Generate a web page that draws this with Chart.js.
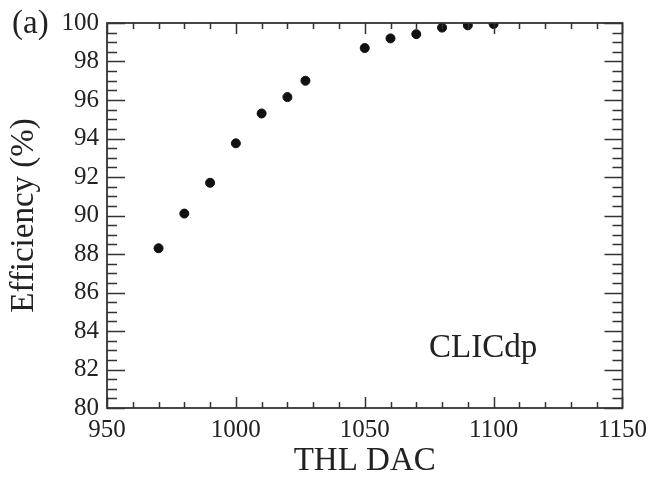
<!DOCTYPE html>
<html>
<head>
<meta charset="utf-8">
<script src="https://cdn.jsdelivr.net/npm/chart.js@4"></script>
<style>
  html, body { margin: 0; padding: 0; background: #fff; }
  #wrap { width: 654px; height: 478px; position: relative; }
</style>
</head>
<body>
<div id="wrap"><canvas id="effChart"></canvas></div>
<script>
// THL DAC threshold values and measured efficiency (%)
const thlDac = [970, 980, 990, 1000, 1010, 1020, 1027, 1050, 1060, 1070, 1080, 1090, 1100];
const efficiency = [88.3, 90.1, 91.7, 93.75, 95.3, 96.15, 97.0, 98.7, 99.2, 99.42, 99.76, 99.88, 99.95];

const xTicks = [950, 1000, 1050, 1100, 1150];
const yTicks = [80, 82, 84, 86, 88, 90, 92, 94, 96, 98, 100];

const SERIF = "'Liberation Serif', 'DejaVu Serif', serif";
const INK = "#222";

// inward ticks on all four sides + frame, placed through the scales
const frameTicks = {
  id: "frameTicks",
  afterDraw(chart) {
    const { ctx, chartArea: a, scales } = chart;
    const xs = scales.x, ys = scales.y;
    ctx.save();
    ctx.strokeStyle = "#333";
    ctx.lineWidth = 1.5;

    ctx.beginPath();
    for (let v = 950; v <= 1150; v += 10) {
      const px = Math.round(xs.getPixelForValue(v)) + 0.5;
      const len = v % 50 === 0 ? 11 : 6;
      ctx.moveTo(px, a.bottom); ctx.lineTo(px, a.bottom - len);
      ctx.moveTo(px, a.top); ctx.lineTo(px, a.top + len);
    }
    for (let i = 0; i <= 40; i++) {
      const v = 80 + i * 0.5;
      const py = Math.round(ys.getPixelForValue(v)) + 0.5;
      const len = i % 4 === 0 ? 18 : 10;
      ctx.moveTo(a.left, py); ctx.lineTo(a.left + len, py);
      ctx.moveTo(a.right, py); ctx.lineTo(a.right - len, py);
    }
    ctx.stroke();

    ctx.lineWidth = 1.8;
    ctx.strokeRect(a.left, a.top, a.right - a.left, a.bottom - a.top);

    ctx.fillStyle = INK;
    ctx.textBaseline = "alphabetic";
    ctx.textAlign = "left";
    ctx.font = "33px " + SERIF;
    ctx.fillText("CLICdp", 429, 357);
    ctx.fillText("(a)", 12, 33);
    ctx.restore();
  }
};

new Chart(document.getElementById("effChart"), {
  type: "scatter",
  data: {
    datasets: [{
      label: "Efficiency",
      data: thlDac.map((x, i) => ({ x, y: efficiency[i] })),
      backgroundColor: "#111",
      borderColor: "#111",
      pointRadius: 4.5,
      pointHoverRadius: 4.5,
    }],
  },
  options: {
    responsive: true,
    maintainAspectRatio: false,
    animation: false,
    layout: { padding: { left: 0, top: 18, right: 30, bottom: 0 } },
    plugins: { legend: { display: false }, tooltip: { enabled: false } },
    scales: {
      x: {
        type: "linear",
        min: 950,
        max: 1150,
        afterBuildTicks: (s) => { s.ticks = xTicks.map((v) => ({ value: v })); },
        afterFit: (s) => { s.height = 70; },
        grid: { display: false, drawTicks: false },
        border: { display: false },
        ticks: {
          color: INK,
          font: { family: SERIF, size: 25 },
          padding: 7,
          autoSkip: false,
          maxRotation: 0,
          callback: (v) => String(v),
        },
        title: {
          display: true,
          text: "THL DAC",
          color: INK,
          font: { family: SERIF, size: 33, lineHeight: 1.0 },
          padding: { top: 0, bottom: 0 },
        },
      },
      y: {
        type: "linear",
        min: 80,
        max: 100,
        afterBuildTicks: (s) => { s.ticks = yTicks.map((v) => ({ value: v })); },
        afterFit: (s) => { s.width = 107; },
        grid: { display: false, drawTicks: false },
        border: { display: false },
        ticks: {
          color: INK,
          font: { family: SERIF, size: 25 },
          padding: 8,
          autoSkip: false,
          callback: (v) => String(v),
        },
        title: {
          display: true,
          text: "Efficiency (%)",
          color: INK,
          font: { family: SERIF, size: 33 },
          padding: { top: 5, bottom: 0 },
        },
      },
    },
  },
  plugins: [frameTicks],
});
</script>
</body>
</html>
